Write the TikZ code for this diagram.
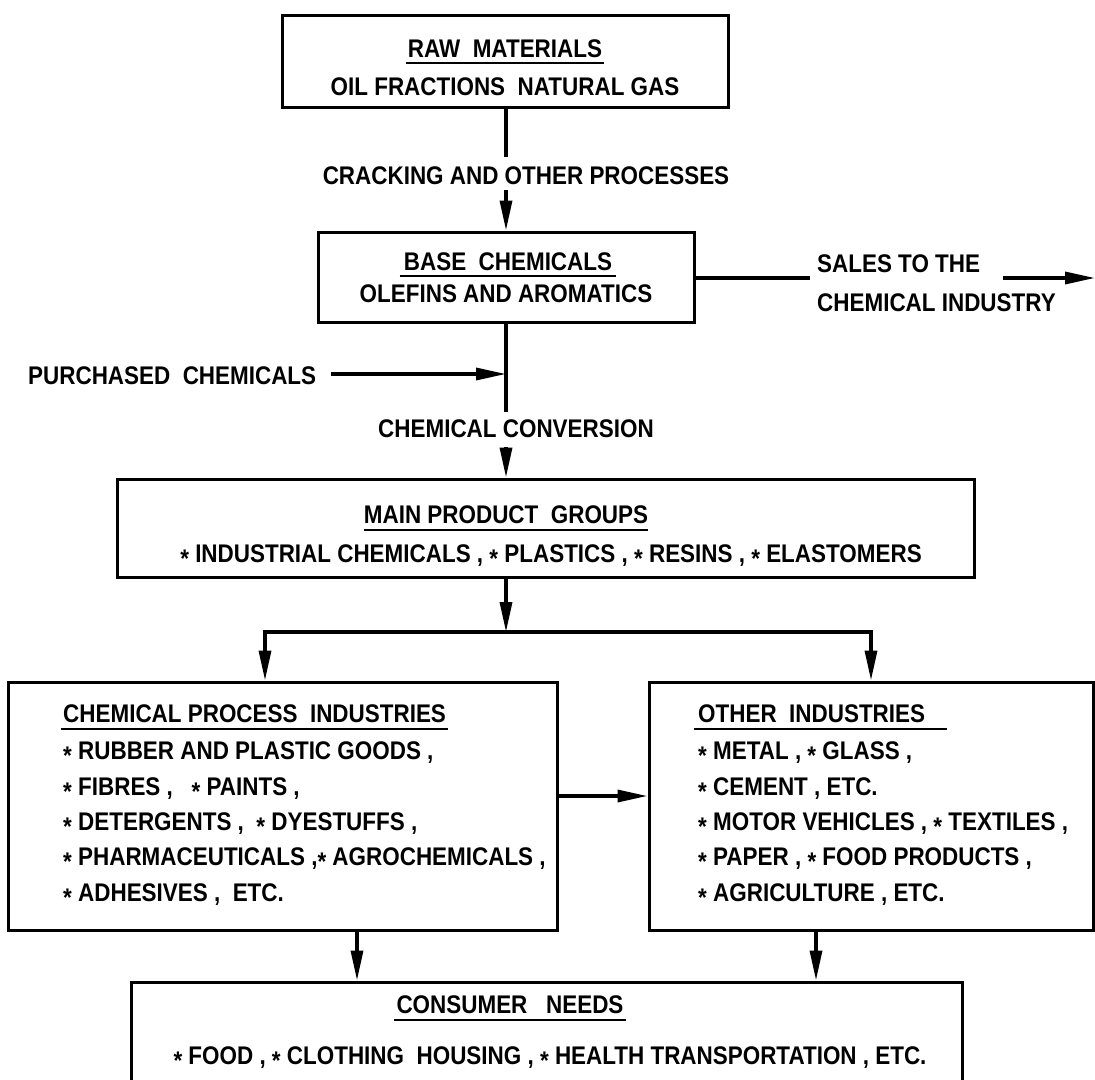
\documentclass[tikz,border=0pt]{standalone}
\usepackage{fontspec}
\setmainfont{Liberation Sans}[FakeStretch=0.88]
\usetikzlibrary{arrows.meta}
\newcommand\bul{\raisebox{-0.21em}{*}}
\begin{document}
\begin{tikzpicture}[x=1pt,y=-1pt,
  box/.style={draw, line width=3pt, inner sep=0pt},
  txt/.style={inner sep=0pt, font=\fontsize{25.5}{30}\selectfont\bfseries, anchor=base},
  ltxt/.style={txt, anchor=base west},
  conn/.style={line width=3.4pt, line cap=rect},
  arr/.style={line width=3.4pt, -{Triangle[length=30pt,width=12pt]}},
  ul/.style={line width=2.6pt}]
\useasboundingbox (0,0) rectangle (1095,1079);
\clip (0,0) rectangle (1095,1079);
\fill[white] (0,0) rectangle (1095,1079);

% boxes
\node[box, minimum width=446pt, minimum height=92pt] (b1) at (505,61) {};
\node[box, minimum width=376pt, minimum height=90pt] (b2) at (506,277) {};
\node[box, minimum width=857pt, minimum height=98pt] (b3) at (545.5,528) {};
\node[box, minimum width=549pt, minimum height=248pt] (b4) at (282.5,806) {};
\node[box, minimum width=444pt, minimum height=248pt] (bo) at (871,806) {};
\node[box, minimum width=831pt, minimum height=130pt] (b5) at (546.5,1047) {};

% texts
\node[txt] (t1) at (505,57) {RAW\ \ MATERIALS};
\draw[ul] ([xshift=-2pt,yshift=-6pt]t1.base west) -- ([xshift=2pt,yshift=-6pt]t1.base east);
\node[txt] (t2) at (505,95) {OIL FRACTIONS\ \ NATURAL GAS};
\node[txt] (tc) at (526,184) {CRACKING AND OTHER PROCESSES};
\node[txt] (t3) at (508,270) {BASE\ \ CHEMICALS};
\draw[ul] ([xshift=-4pt,yshift=-6pt]t3.base west) -- ([xshift=4pt,yshift=-6pt]t3.base east);
\node[txt] (t4) at (506,302) {OLEFINS AND AROMATICS};
\node[ltxt] (ts1) at (817,272) {SALES TO THE};
\node[ltxt] (ts2) at (817,311) {CHEMICAL INDUSTRY};
\node[ltxt] (tp) at (28,384) {PURCHASED\ \ CHEMICALS};
\node[txt] (tv) at (516,437) {CHEMICAL CONVERSION};
\node[txt] (t5) at (506,523) {MAIN PRODUCT\ \ GROUPS};
\draw[ul] ([yshift=-7pt]t5.base west) -- ([yshift=-7pt]t5.base east);
\node[txt] (t6) at (551,562) {\bul\ INDUSTRIAL CHEMICALS ,\ \bul\ PLASTICS ,\ \bul\ RESINS ,\ \bul\ ELASTOMERS};

\node[ltxt] (t7) at (63,722) {CHEMICAL PROCESS\ \ INDUSTRIES};
\draw[ul] ([xshift=-2pt,yshift=-7pt]t7.base west) -- ([xshift=2pt,yshift=-7pt]t7.base east);
\node[ltxt] (c41) at (63,759) {\bul\ RUBBER AND PLASTIC GOODS ,};
\node[ltxt] (c42) at (63,795) {\bul\ FIBRES ,\ \ \ \bul\ PAINTS ,};
\node[ltxt] (c43) at (63,830) {\bul\ DETERGENTS ,\ \ \bul\ DYESTUFFS ,};
\node[ltxt] (c44) at (63,865) {\bul\ PHARMACEUTICALS ,\bul\ AGROCHEMICALS ,};
\node[ltxt] (c45) at (63,901) {\bul\ ADHESIVES ,\ \ ETC.};

\node[ltxt] (t8) at (698,722) {OTHER\ \ INDUSTRIES};
\draw[ul] ([xshift=-4pt,yshift=-7pt]t8.base west) -- ([xshift=22pt,yshift=-7pt]t8.base east);
\node[ltxt] (o1) at (698,759) {\bul\ METAL ,\ \bul\ GLASS ,};
\node[ltxt] (o2) at (698,795) {\bul\ CEMENT , ETC.};
\node[ltxt] (o3) at (698,830) {\bul\ MOTOR VEHICLES ,\ \bul\ TEXTILES ,};
\node[ltxt] (o4) at (698,865) {\bul\ PAPER ,\ \bul\ FOOD PRODUCTS ,};
\node[ltxt] (o5) at (698,901) {\bul\ AGRICULTURE ,\ ETC.};

\node[txt] (t9) at (510,1013) {CONSUMER\ \ \ NEEDS};
\draw[ul] ([xshift=-2pt,yshift=-7pt]t9.base west) -- ([xshift=2pt,yshift=-7pt]t9.base east);
\node[txt] (t10) at (550,1064) {\bul\ FOOD ,\ \bul\ CLOTHING\ \ HOUSING ,\ \bul\ HEALTH\ TRANSPORTATION , ETC.};

% connectors
\coordinate (c1) at (506,155);
\draw[conn] (b1.south -| c1) -- (c1);
\coordinate (c2) at (506,190);
\draw[arr] (c2) -- (b2.north -| c2);
\coordinate (s1) at (808,278);
\draw[conn] (b2.east |- s1) -- (s1);
\coordinate (s2) at (1003,278);
\coordinate (s3) at (1095,278);
\draw[arr] (s2) -- (s3);
\coordinate (c3) at (506,410);
\draw[conn] (b2.south -| c3) -- (c3);
\coordinate (p1) at (331,374);
\coordinate (p2) at (506,374);
\draw[arr] (p1) -- (p2);
\coordinate (c4) at (506,447);
\draw[arr] (c4) -- (b3.north -| c4);
\coordinate (j) at (506,632);
\coordinate (jl) at (265,632);
\coordinate (jr) at (871,632);
\draw[arr] (b3.south -| j) -- (j);
\draw[conn] (jl) -- (jr);
\draw[arr] (jl) -- (b4.north -| jl);
\draw[arr] (jr) -- (bo.north -| jr);
\coordinate (m) at (600,796);
\draw[arr] (b4.east |- m) -- (bo.west |- m);
\coordinate (d1) at (357,955);
\coordinate (d2) at (816,955);
\draw[arr] (b4.south -| d1) -- (b5.north -| d1);
\draw[arr] (bo.south -| d2) -- (b5.north -| d2);
\end{tikzpicture}
\end{document}
